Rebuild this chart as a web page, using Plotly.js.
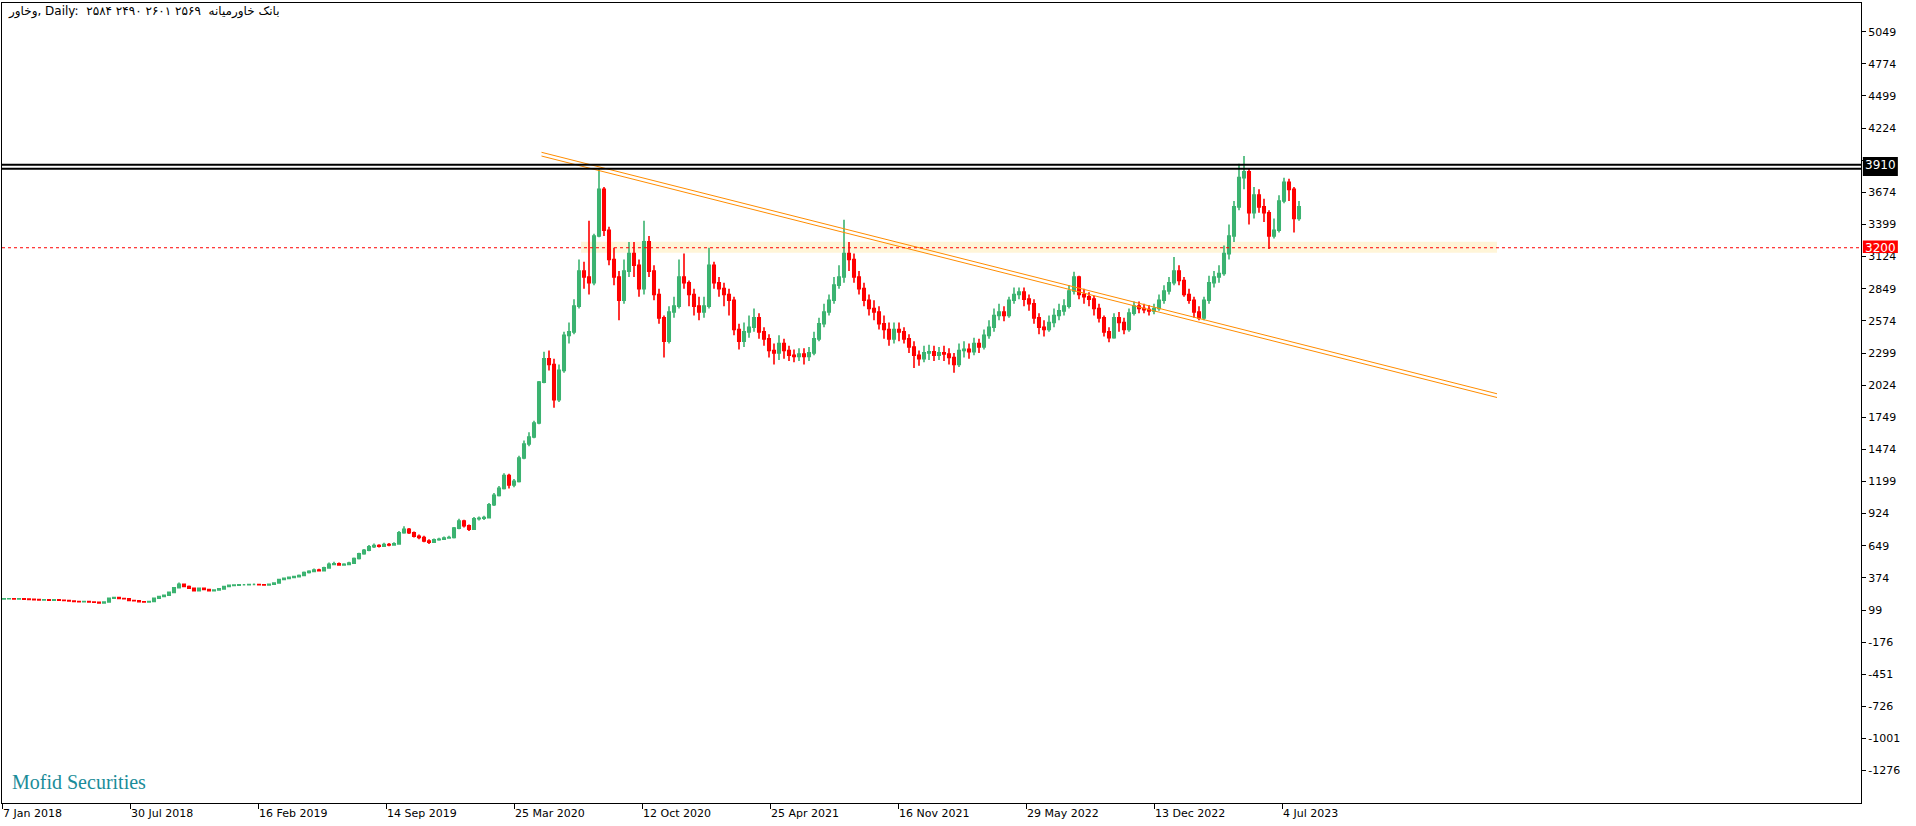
<!DOCTYPE html>
<html>
<head>
<meta charset="utf-8">
<script src="https://cdn.plot.ly/plotly-3.0.1.min.js"></script>
<style>html,body{margin:0;padding:0;background:#fff;}#chart{width:1916px;height:826px;}</style>
</head>
<body>
<div id="chart"></div>
<script>
// Weekly-aggregated bars (bar index on x)
const openP = [
193,195,196,193,194,192,190,188,185,187,
184,186,182,180,176,172,170,171,168,165,
160,168,200,205,198,195,180,178,170,168,
172,200,215,225,250,290,320,300,285,265,
285,275,265,270,280,300,310,312,315,315,
318,318,315,314,320,330,360,370,378,385,
395,420,430,440,435,460,490,495,485,490,
500,540,580,610,640,650,645,660,655,665,
760,790,760,730,720,690,680,700,705,715,
720,800,860,820,790,880,885,890,1000,1080,
1140,1250,1170,1200,1400,1520,1580,1700,2050,2250,
2200,1900,2150,2450,2480,2700,3000,2950,2900,3300,
3700,3350,3100,2950,2750,3000,3150,3050,2850,3250,
3000,2800,2600,2400,2650,2700,2950,2900,2800,2700,
2650,2700,3050,2900,2850,2800,2750,2500,2400,2480,
2520,2600,2480,2420,2320,2300,2380,2320,2280,2270,
2290,2270,2300,2420,2550,2650,2750,2880,2950,3150,
3100,2950,2850,2750,2680,2650,2550,2500,2420,2500,
2480,2420,2350,2280,2250,2300,2310,2280,2300,2290,
2260,2200,2320,2330,2310,2380,2350,2450,2520,2620,
2650,2620,2750,2800,2820,2760,2720,2600,2520,2500,
2560,2620,2660,2700,2830,2950,2800,2780,2760,2680,
2600,2480,2430,2600,2560,2500,2640,2700,2680,2670,
2660,2680,2750,2830,2900,3000,2920,2800,2750,2650,
2600,2750,2900,2950,2980,3150,3300,3550,3800,3850,
3500,3650,3550,3500,3300,3350,3600,3760,3700,3450];
const highP = [
199,200,199,198,197,195,193,191,191,190,
190,189,186,183,180,176,175,175,172,169,
171,204,212,209,202,198,185,182,175,176,
204,220,230,256,296,335,325,308,290,292,
292,282,276,285,305,316,318,321,322,324,
325,323,321,326,336,366,378,386,392,402,
428,440,455,452,470,505,512,505,500,512,
548,590,622,655,668,662,675,672,680,775,
815,800,772,745,735,705,712,718,728,735,
810,880,872,832,895,900,905,1015,1100,1160,
1270,1265,1220,1420,1550,1620,1720,2060,2310,2320,
2250,2200,2480,2560,2760,3100,3080,3430,3320,3880,
3720,3380,3200,3000,3100,3250,3250,3100,3430,3300,
3050,2850,2620,2700,2780,3100,3150,2920,2850,2780,
2780,3200,3080,2950,2900,2850,2780,2550,2560,2620,
2680,2640,2520,2460,2380,2450,2420,2360,2330,2340,
2340,2350,2480,2600,2720,2800,2950,3050,3440,3250,
3150,3000,2900,2800,2750,2700,2620,2560,2560,2560,
2520,2460,2400,2320,2360,2370,2360,2350,2360,2340,
2300,2380,2400,2380,2430,2420,2500,2580,2680,2720,
2700,2780,2860,2860,2860,2800,2760,2640,2580,2620,
2680,2720,2760,2880,2995,2960,2850,2820,2790,2720,
2620,2520,2640,2650,2600,2680,2740,2740,2720,2710,
2720,2800,2880,2950,3120,3050,2950,2850,2780,2700,
2780,2960,3000,3050,3220,3400,3600,3920,3985,3880,
3720,3700,3620,3520,3450,3650,3800,3790,3720,3600];
const lowP = [
190,192,190,190,188,187,185,182,182,181,
181,179,177,173,169,166,167,165,161,156,
157,165,196,194,190,177,174,166,163,165,
169,196,211,221,246,286,296,280,258,260,
270,260,260,265,276,296,305,308,309,311,
311,310,308,309,315,326,355,364,372,380,
390,412,424,428,430,455,482,478,478,484,
495,532,572,602,630,635,638,645,648,660,
752,750,720,705,680,665,672,692,700,708,
712,790,805,775,785,865,870,882,990,1070,
1130,1140,1150,1190,1390,1500,1570,1690,2040,2150,
1830,1880,2130,2380,2460,2680,2850,2800,2880,3290,
3300,3050,2880,2580,2720,2950,2950,2780,2800,2950,
2750,2550,2260,2380,2600,2680,2850,2700,2620,2580,
2600,2680,2850,2780,2700,2620,2450,2330,2350,2430,
2480,2420,2360,2260,2200,2240,2250,2230,2220,2230,
2200,2230,2280,2400,2520,2620,2720,2850,2900,3000,
2900,2800,2700,2620,2580,2500,2420,2360,2380,2400,
2380,2300,2170,2190,2220,2240,2230,2240,2230,2200,
2130,2180,2260,2250,2280,2300,2330,2420,2480,2580,
2570,2600,2720,2760,2700,2660,2550,2460,2440,2480,
2520,2580,2620,2680,2800,2760,2720,2700,2620,2560,
2440,2390,2420,2480,2460,2480,2620,2640,2640,2620,
2630,2660,2720,2800,2880,2880,2780,2720,2600,2580,
2580,2720,2860,2900,2960,3100,3250,3520,3700,3400,
3450,3500,3420,3190,3280,3330,3580,3600,3330,3430];
const closeP = [
195,196,193,194,192,190,188,185,187,184,
186,182,180,176,172,170,171,168,165,160,
168,200,205,198,195,180,178,170,168,172,
200,215,225,250,290,320,300,285,265,285,
275,265,270,280,300,310,312,315,315,318,
318,315,314,320,330,360,370,378,385,395,
420,430,440,435,460,490,495,485,490,500,
540,580,610,640,650,645,660,655,665,760,
790,760,730,720,690,680,700,705,715,720,
800,860,820,790,880,885,890,1000,1080,1140,
1250,1170,1200,1400,1520,1580,1700,2050,2250,2200,
1900,2150,2450,2480,2700,3000,2950,2900,3300,3700,
3350,3100,2950,2750,3000,3150,3050,2850,3250,3000,
2800,2600,2400,2650,2700,2950,2900,2800,2700,2650,
2700,3050,2900,2850,2800,2750,2500,2400,2480,2520,
2600,2480,2420,2320,2300,2380,2320,2280,2270,2290,
2270,2300,2420,2550,2650,2750,2880,2950,3150,3100,
2950,2850,2750,2680,2650,2550,2500,2420,2500,2480,
2420,2350,2280,2250,2300,2310,2280,2300,2290,2260,
2200,2320,2330,2310,2380,2350,2450,2520,2620,2650,
2620,2750,2800,2820,2760,2720,2600,2520,2500,2560,
2620,2660,2700,2830,2950,2800,2780,2760,2680,2600,
2480,2430,2600,2560,2500,2640,2700,2680,2670,2660,
2680,2750,2830,2900,3000,2920,2800,2750,2650,2600,
2750,2900,2950,2980,3150,3300,3550,3800,3850,3500,
3650,3550,3500,3300,3350,3600,3760,3700,3450,3550];

// x-axis date ticks (bar index positions) and labels
const dateTickIdx = [-0.4, 25.2, 50.8, 76.4, 102, 127.6, 153.2, 178.8, 204.4, 230, 255.6];
const dateTickText = ['7 Jan 2018','30 Jul 2018','16 Feb 2019','14 Sep 2019','25 Mar 2020','12 Oct 2020','25 Apr 2021','16 Nov 2021','29 May 2022','13 Dec 2022','4 Jul 2023'];

// y-axis price ticks
const priceTicks = [5049,4774,4499,4224,3949,3674,3399,3124,2849,2574,2299,2024,1749,1474,1199,924,649,374,99,-176,-451,-726,-1001,-1276];
const priceTickText = ['5049','4774','4499','4224','','3674','3399','3124','2849','2574','2299','2024','1749','1474','1199','924','649','374','99','-176','-451','-726','-1001','-1276'];

// drawn objects
const resistanceLevels = [3910, 3876];
const supportLevel = 3200;
const zoneLow = 3157, zoneHigh = 3252;
const zoneX = [115.4, 298.6];
const trendX = [107.5, 298.6];
const trendUpper = [4017, 1950];
const trendLower = [3985, 1918];

const titleText = 'وخاور, Daily:  ۲۵۸۴ ۲۴۹۰ ۲۶۰۱ ۲۵۶۹  بانک خاورمیانه';
const watermark = 'Mofid Securities';

const bars = closeP.map((_, i) => i);
const mtFont = 'DejaVu Sans, Tahoma, sans-serif';
const labelW = 35 / 1859;

const traces = [
  {
    type: 'candlestick', x: bars, open: openP, high: highP, low: lowP, close: closeP,
    increasing: {line: {color: '#3CB371', width: 1.6}, fillcolor: '#3CB371'},
    decreasing: {line: {color: '#FF0000', width: 1.6}, fillcolor: '#FF0000'},
    whiskerwidth: 0, hoverinfo: 'skip', showlegend: false
  },
  {type: 'scatter', mode: 'lines', x: trendX, y: trendUpper, line: {color: '#FF8C00', width: 1}, hoverinfo: 'skip', showlegend: false},
  {type: 'scatter', mode: 'lines', x: trendX, y: trendLower, line: {color: '#FF8C00', width: 1}, hoverinfo: 'skip', showlegend: false}
];

const shapes = [
  {type: 'rect', xref: 'x', yref: 'y', x0: zoneX[0], x1: zoneX[1], y0: zoneLow, y1: zoneHigh,
   fillcolor: '#FFF5D8', line: {width: 0}, layer: 'below'},
  {type: 'line', xref: 'paper', yref: 'y', x0: 0, x1: 1, y0: supportLevel, y1: supportLevel,
   line: {color: '#FF0000', width: 1, dash: '3px,3px'}, layer: 'above'},
  {type: 'rect', xref: 'paper', yref: 'y', x0: 1.001, x1: 1.001 + labelW,
   y0: resistanceLevels[1] - 62, y1: resistanceLevels[0] + 66, fillcolor: '#000', line: {width: 0}, layer: 'above'},
  {type: 'rect', xref: 'paper', yref: 'y', x0: 1.001, x1: 1.001 + labelW,
   y0: supportLevel - 45, y1: supportLevel + 62, fillcolor: '#FF0000', line: {width: 0}, layer: 'above'}
];
resistanceLevels.forEach(v => shapes.push({type: 'line', xref: 'paper', yref: 'y', x0: 0, x1: 1, y0: v, y1: v,
  line: {color: '#000000', width: 2}, layer: 'above'}));

const annotations = [
  {xref: 'paper', yref: 'paper', x: 0.002, y: 0.99, xanchor: 'left', yanchor: 'middle', showarrow: false,
   text: titleText, font: {family: mtFont, size: 12, color: '#000'}},
  {xref: 'paper', yref: 'paper', x: 0.0045, y: 0.026, xanchor: 'left', yanchor: 'middle', showarrow: false,
   text: watermark, font: {family: 'Liberation Serif, Times New Roman, serif', size: 20, color: '#1A8C99'}},
  {xref: 'paper', yref: 'y', x: 1.0 + 0.5 * labelW + 0.001, y: resistanceLevels[0], xanchor: 'center', yanchor: 'middle', showarrow: false,
   text: String(resistanceLevels[0]), font: {family: mtFont, size: 12, color: '#fff'}},
  {xref: 'paper', yref: 'y', x: 1.0 + 0.5 * labelW + 0.001, y: supportLevel, xanchor: 'center', yanchor: 'middle', showarrow: false,
   text: String(supportLevel), font: {family: mtFont, size: 12, color: '#fff'}}
];

const layout = {
  width: 1916, height: 826,
  margin: {l: 2, r: 55, t: 3, b: 23, pad: 0},
  paper_bgcolor: '#fff', plot_bgcolor: '#fff', showlegend: false,
  xaxis: {
    type: 'linear', range: [-0.4, 371.4], showgrid: false, zeroline: false,
    showline: true, linecolor: '#000', linewidth: 1, mirror: true,
    ticks: 'outside', ticklen: 5, tickcolor: '#000', tickwidth: 1,
    tickmode: 'array', tickvals: dateTickIdx, ticktext: dateTickText,
    ticklabelposition: 'outside right',
    tickfont: {family: mtFont, size: 11, color: '#000'},
    rangeslider: {visible: false}, fixedrange: true
  },
  yaxis: {
    side: 'right', range: [-1553, 5295], showgrid: false, zeroline: false,
    showline: true, linecolor: '#000', linewidth: 1, mirror: true,
    ticks: 'outside', ticklen: 4, tickcolor: '#000', tickwidth: 1,
    tickmode: 'array', tickvals: priceTicks, ticktext: priceTickText,
    tickfont: {family: mtFont, size: 11, color: '#000'}, fixedrange: true
  },
  shapes: shapes,
  annotations: annotations
};

Plotly.newPlot('chart', traces, layout, {staticPlot: true, displayModeBar: false});
</script>
</body>
</html>
